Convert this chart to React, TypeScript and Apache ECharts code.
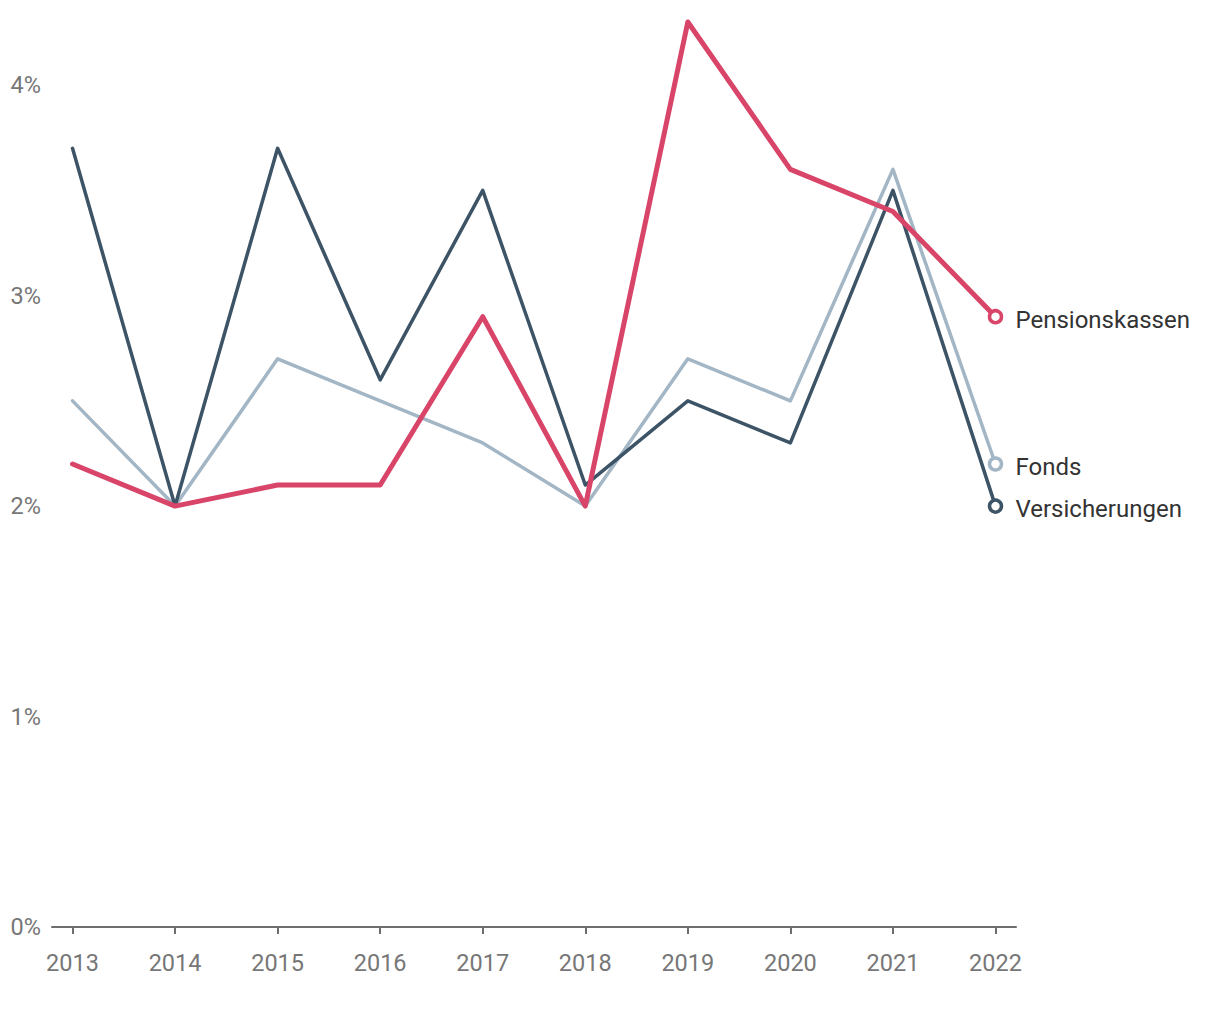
import React, { useEffect, useRef } from "react";
import * as echarts from "echarts";

const years = [2013, 2014, 2015, 2016, 2017, 2018, 2019, 2020, 2021, 2022];
const fonds = [2.5, 2.0, 2.7, 2.5, 2.3, 2.0, 2.7, 2.5, 3.6, 2.2];
const versicherungen = [3.7, 2.0, 3.7, 2.6, 3.5, 2.1, 2.5, 2.3, 3.5, 2.0];
const pensionskassen = [2.2, 2.0, 2.1, 2.1, 2.9, 2.0, 4.3, 3.6, 3.4, 2.9];
const yTicks = [0, 1, 2, 3, 4];

const FONT = "Roboto, 'Noto Sans', sans-serif";

function makeSeries(name: string, values: number[], color: string, width: number) {
  const last = values.length - 1;
  return {
    name,
    type: "line",
    data: years.map((y, i) => [y, values[i]]),
    symbol: "circle",
    symbolSize: (_v: any, p: any) => (p.dataIndex === last ? 12 : 0),
    showAllSymbol: true,
    itemStyle: { color: "#ffffff", borderColor: color, borderWidth: 3.5 },
    lineStyle: { color, width, cap: "round", join: "round" },
    endLabel: {
      show: true,
      formatter: "{a}",
      distance: 20,
      offset: [0, 3],
      color: "#333333",
      fontSize: 24,
      fontFamily: FONT,
    },
    emphasis: { disabled: true },
    z: width > 4 ? 3 : 2,
  };
}

export default function App() {
  const ref = useRef<HTMLDivElement>(null);
  useEffect(() => {
    if (!ref.current) return;
    const chart = echarts.init(ref.current, undefined, { renderer: "svg" });
    chart.setOption({
      animation: false,
      grid: { left: 52, right: 204, top: 1, bottom: 93, containLabel: false },
      xAxis: {
        type: "value",
        min: 2012.8,
        max: 2022.2,
        splitLine: { show: false },
        axisLine: { show: true, lineStyle: { color: "#6e6e6e", width: 2 } },
        axisTick: {
          show: true,
          customValues: years,
          length: 7,
          lineStyle: { color: "#6e6e6e", width: 2 },
        },
        axisLabel: {
          customValues: years,
          formatter: (v: number) => String(Math.round(v)),
          color: "#777777",
          fontSize: 23.5,
          fontFamily: FONT,
          margin: 24,
        },
      },
      yAxis: {
        type: "value",
        min: 0,
        max: 4.4,
        splitLine: { show: false },
        axisLine: { show: false },
        axisTick: { show: false },
        axisLabel: {
          customValues: yTicks,
          formatter: (v: number) => `${v}%`,
          color: "#777777",
          fontSize: 23.5,
          fontFamily: FONT,
          margin: 11,
        },
      },
      series: [
        makeSeries("Fonds", fonds, "#a3b6c5", 3.5),
        makeSeries("Versicherungen", versicherungen, "#3d5366", 3.5),
        makeSeries("Pensionskassen", pensionskassen, "#d94469", 5),
      ],
    });
    return () => chart.dispose();
  }, []);
  return <div ref={ref} style={{ width: 1220, height: 1020, position: "absolute", left: 0, top: 0 }} />;
}
